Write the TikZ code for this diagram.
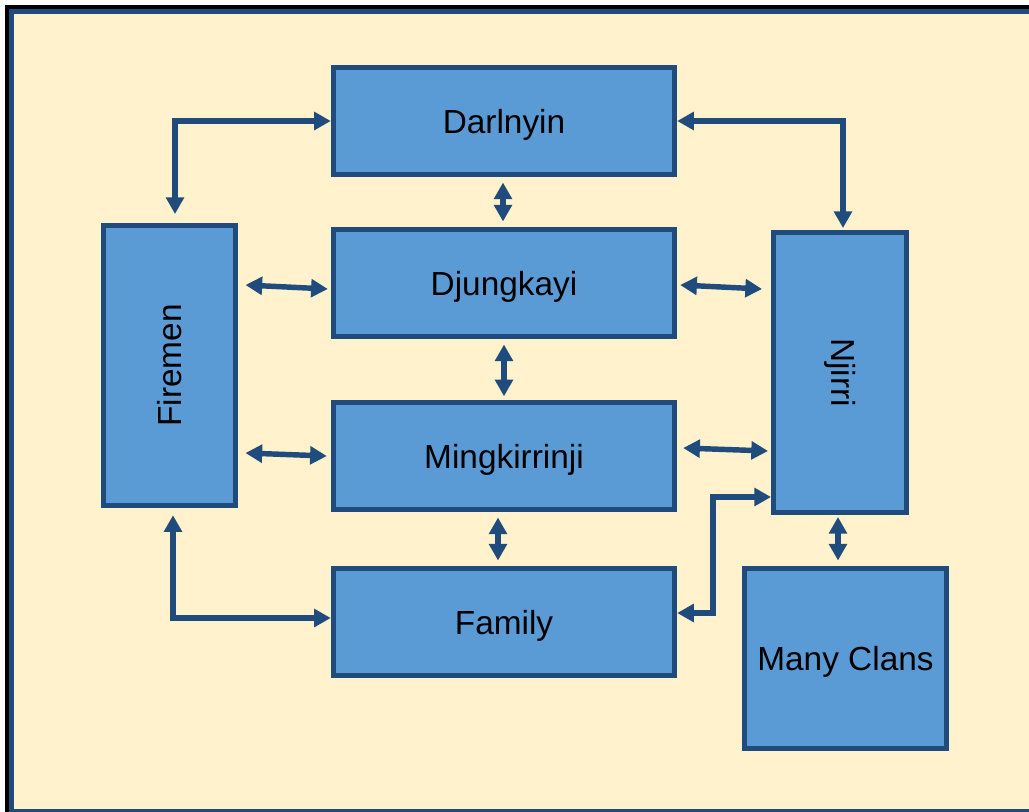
\documentclass[tikz,border=0pt]{standalone}
\usepackage{fontspec}
\setmainfont{Liberation Sans}
\definecolor{clanfill}{RGB}{91,155,213}
\definecolor{clanline}{RGB}{31,76,124}
\definecolor{paper}{RGB}{255,242,204}
\usetikzlibrary{
	arrows.meta,
	positioning,
	calc
}
\tikzset{
  % arrow
	clanlra/.style    ={{Triangle[length=9.5pt,width=10pt]}-{Triangle[length=9.5pt,width=10pt]}, line width=3.1pt, draw=clanline},
  % node
	clannode/.style   ={fill=clanfill,draw=clanline,text=black,line width=3.1pt,inner sep=0pt,text depth=0pt,
	                    font=\fontsize{19}{23}\selectfont},
	clanwide/.style   ={clannode,minimum width=6.82cm,minimum height=2.14cm},
	clantall/.style   ={clannode,text depth=,minimum width=2.65cm,minimum height=5.6cm}
}

\begin{document}
\begin{tikzpicture}[x=0.02cm,y=-0.02cm]
	\useasboundingbox (0,0) rectangle (1029,812);
	\clip (0,0) rectangle (1029,812);
	% frame
	\fill[black] (5,5) rectangle (1060,860);
	\draw[line width=3pt,draw=clanline,fill=paper] (11.5,11.5) rectangle (1060,811.5);
	% nodes
	\node[clanwide] (darl)  at (504,121) {Darlnyin};
	\node[clanwide] (djung) at (504,283) {Djungkayi};
	\node[clanwide] (ming)  at (504,456) {Mingkirrinji};
	\node[clanwide] (fam)   at (504,622) {Family};
	\node[clantall] (fire)  at (169.5,365.5) {\rotatebox{90}{Firemen}};
	\node[clantall] (njir)  at (840,372.5) {\rotatebox{-90}{Njirri}};
	\node[clannode,minimum width=4.04cm,minimum height=3.6cm] (many) at (845.5,658.5) {Many Clans};
	% connectors
	\draw[clanlra,shorten <=5pt] ($(fire.north)+(5.5,0)$) |- (darl.west);
	\draw[clanlra,shorten >=1pt] (darl.east) -| ($(njir.north)+(3,0)$);
	\draw[clanlra,shorten <=3pt,shorten >=3pt] ($(darl.south)+(-1,0)$) -- ($(djung.north)+(-1,0)$);
	\draw[clanlra,shorten <=3pt,shorten >=2pt] (djung.south) -- (ming.north);
	\draw[clanlra,shorten <=3pt,shorten >=3pt] ($(ming.south)+(-6,0)$) -- ($(fam.north)+(-6,0)$);
	\draw[clanlra] ($(fire.east |- djung.west)+(7,2)$) -- ($(djung.west)+(-3,6)$);
	\draw[clanlra] ($(djung.east)+(3,2)$) -- ($(njir.west |- djung.east)+(-9,6)$);
	\draw[clanlra] ($(fire.east |- ming.west)+(7,-3)$) -- ($(ming.west)+(-4,0)$);
	\draw[clanlra] ($(ming.east)+(6,-8)$) -- ($(njir.west |- ming.east)+(-3,-5)$);
	\draw[clanlra,shorten <=4pt] ($(fire.south)+(3.5,0)$) |- ($(fam.west)+(0,-4)$);
	\draw[clanlra] ($(fam.east)+(0,-9)$) -| (713,497) -- ($(njir.west |- 0,497)$);
	\draw[clanlra,shorten <=1pt,shorten >=3pt] ($(njir.south)+(-2,0)$) -- ($(many.north -| njir.south)+(-2,0)$);
\end{tikzpicture}
\end{document}
